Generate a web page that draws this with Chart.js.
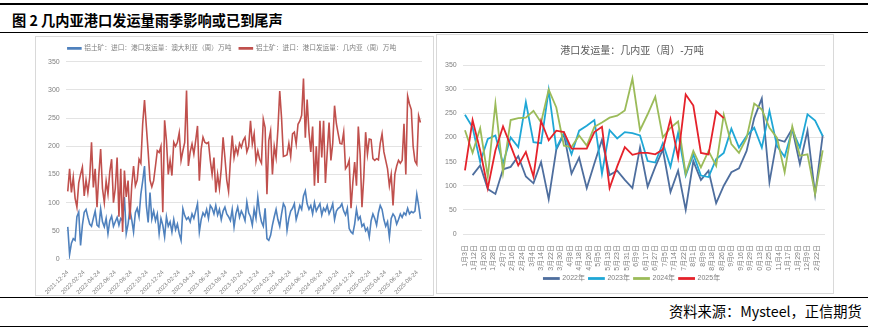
<!DOCTYPE html>
<html><head><meta charset="utf-8">
<script src="https://cdn.jsdelivr.net/npm/chart.js@4.4.1/dist/chart.umd.min.js"></script>
<style>
body{margin:0;width:874px;height:330px;background:#fff;position:relative;overflow:hidden;font-family:"Noto Sans CJK SC",sans-serif;}
.hl{position:absolute;left:0;width:868px;height:0;border-top:1.5px solid #000;}
#title{position:absolute;left:12px;top:10px;font-size:14.5px;font-weight:bold;color:#000;line-height:20px;white-space:nowrap;}
#src{position:absolute;left:669px;top:302px;font-size:14px;color:#000;line-height:18px;white-space:nowrap;}
.panel{position:absolute;border:1px solid #d9d9d9;box-sizing:border-box;}
canvas{position:absolute;}
</style></head><body>
<div class="hl" style="top:3px;border-top-width:2px"></div>
<div id="title">图 2 几内亚港口发运量雨季影响或已到尾声</div>
<div class="hl" style="top:32px"></div>
<div class="panel" style="left:35px;top:36px;width:399px;height:260px"></div>
<div class="panel" style="left:436px;top:34px;width:398px;height:260px"></div>
<canvas id="cl" width="397" height="258" style="left:36px;top:37px"></canvas>
<canvas id="cr" width="396" height="258" style="left:437px;top:35px"></canvas>
<div class="hl" style="top:297px"></div>
<div id="src">资料来源：Mysteel，正信期货</div>
<div class="hl" style="top:326px"></div>
<script>
// fit header/footer text to the reference widths
(function(){
  const fit = (id, target) => {
    const el = document.getElementById(id);
    const fs = parseFloat(getComputedStyle(el).fontSize);
    const w = el.getBoundingClientRect().width;
    if (w > 0) el.style.fontSize = (fs * target / w).toFixed(2) + 'px';
  };
  fit('title', 271);
  fit('src', 193);
})();

// ---------- left chart data ----------
const leftSeriesNames = ['铝土矿：进口：港口发运量：澳大利亚（周）万吨','铝土矿：进口：港口发运量：几内亚（周）万吨'];
const leftStartDate = '2021-12-24';
const leftTickLabels = ['2021-12-24','2022-02-24','2022-04-24','2022-06-24','2022-08-24','2022-10-24','2022-12-24',
 '2023-02-24','2023-04-24','2023-06-24','2023-08-24','2023-10-24','2023-12-24','2024-02-24','2024-04-24','2024-06-24',
 '2024-08-24','2024-10-24','2024-12-24','2025-02-24','2025-04-24','2025-06-24','2025-08-24'];
const australiaWeekly = [
 57,8,28,36,33,75,83,24,60,83,
 88,74,62,58,72,85,60,57,89,66,
 57,72,45,68,76,58,66,74,60,72,
 68,110,45,62,88,70,48,82,90,75,
 115,138,165,95,65,118,71,85,68,80,
 45,72,60,39,75,58,66,48,70,52,
 62,45,33,89,77,70,74,66,80,72,
 85,98,48,70,82,76,88,72,95,90,
 80,95,78,88,70,85,92,80,75,68,
 88,57,80,92,74,85,78,68,101,82,
 75,60,88,72,110,82,66,58,90,36,
 33,42,60,75,88,70,58,80,98,92,
 51,72,85,90,98,70,82,95,88,112,
 121,98,88,95,80,100,85,92,98,78,
 90,85,95,80,88,98,70,85,90,92,
 98,85,78,90,54,48,45,62,88,70,
 75,58,62,50,55,39,68,80,72,60,
 82,95,88,70,58,66,39,72,80,75,
 62,70,80,74,82,78,90,80,84,82,
 85,115,95,71];
const guineaWeekly = [
 120,160,118,145,108,92,135,150,163,112,
 140,118,145,207,127,160,92,150,195,125,
 100,138,115,155,177,100,125,180,75,160,
 48,157,110,139,70,130,165,130,140,177,
 170,240,282,235,190,140,128,139,165,192,
 189,200,83,246,210,150,175,148,207,200,
 207,224,175,192,207,299,165,190,204,186,
 210,236,139,195,216,207,205,207,175,150,
 180,118,150,125,160,216,180,140,120,175,
 219,180,198,186,205,198,210,216,190,200,
 245,204,222,174,192,177,170,248,233,115,
 210,227,150,200,180,230,298,250,182,183,
 185,205,182,222,225,204,239,245,255,320,
 215,283,225,190,235,130,200,135,245,180,
 245,135,190,242,175,205,272,240,222,205,
 204,225,160,165,175,90,135,172,130,235,
 185,92,145,225,186,213,212,178,175,178,
 176,205,222,190,175,160,130,150,95,150,
 165,175,170,175,240,150,289,275,265,200,
 174,168,254,242];

// ---------- right chart data ----------
const rightTitle = '港口发运量：几内亚（周）-万吨';
const rightTickLabels = ['1月3日','1月12日','1月20日','1月28日','2月7日','2月16日','2月24日','3月4日','3月14日','3月22日',
 '3月30日','4月8日','4月18日','4月26日','5月5日','5月13日','5月23日','5月31日','6月9日','6月17日','6月27日','7月5日',
 '7月14日','7月22日','8月1日','8月9日','8月18日','8月26日','9月6日','9月16日','9月29日','10月13日','10月25日',
 '11月4日','11月17日','11月29日','12月9日','12月22日'];
const yearNames = ['2022年','2023年','2024年','2025年'];
const y2022 = [null,122,142,93,83,134,139,161,119,105,149,72,175,207,125,158,95,146,195,122,131,112,95,179,98,139,175,87,131,50,151,112,131,64,100,128,136,172,240,281,107,196,191,218,145,214,82,205];
const y2023 = [247,221,149,197,204,146,200,180,273,190,188,298,178,209,165,214,224,236,125,215,198,211,209,204,151,148,188,139,209,121,165,121,118,155,168,218,179,203,220,179,255,182,160,216,179,248,235,203];
const y2024 = [215,168,219,119,270,127,236,240,241,255,231,299,262,183,180,204,183,222,231,241,245,256,322,215,248,284,200,220,233,124,172,138,172,141,247,186,168,199,270,258,220,199,128,223,162,165,83,173];
const y2025 = [132,236,173,95,173,223,183,142,170,119,234,194,214,211,177,177,177,211,222,95,140,180,164,168,168,165,175,238,158,289,266,168,165,254,240];

const FONT = "'Liberation Sans','Noto Sans CJK SC',sans-serif";
const GRAY = '#7f7f7f';

// ---------- left chart ----------
const dayMs = 86400000;
const t0 = Date.parse(leftStartDate + 'T00:00:00Z');
const dayOf = s => Math.round((Date.parse(s + 'T00:00:00Z') - t0) / dayMs);
const leftTickDays = leftTickLabels.map(dayOf);
const weekly = arr => arr.map((v, i) => ({x: i * 7, y: v}));

new Chart(document.getElementById('cl'), {
  type: 'line',
  data: {datasets: [
    {label: leftSeriesNames[0], data: weekly(australiaWeekly), borderColor: '#4F81BD', backgroundColor: '#4F81BD', borderWidth: 1.6, pointRadius: 0, tension: 0, order: 2},
    {label: leftSeriesNames[1], data: weekly(guineaWeekly), borderColor: '#C0504D', backgroundColor: '#C0504D', borderWidth: 1.6, pointRadius: 0, tension: 0, order: 1}
  ]},
  options: {
    responsive: false, animation: false, events: [],
    layout: {padding: {left: 6, right: 11, top: 0, bottom: 0}},
    plugins: {
      legend: {position: 'top', labels: {sort: (a, b) => a.datasetIndex - b.datasetIndex, boxWidth: 13, boxHeight: 1, padding: 8, color: GRAY, font: {family: FONT, size: 6.7}}},
      tooltip: {enabled: false}
    },
    scales: {
      x: {type: 'linear', min: -8, max: 1357,
        afterBuildTicks: ax => { ax.ticks = leftTickDays.map(v => ({value: v})); },
        afterFit: ax => { ax.height = 36; },
        grid: {display: false}, border: {display: false},
        ticks: {autoSkip: false, minRotation: 45, maxRotation: 45, padding: 2, color: GRAY, font: {family: FONT, size: 6},
          callback: (v, i) => leftTickLabels[i]}
      },
      y: {min: 0, max: 350, grid: {color: '#e3e3e3', drawTicks: false}, border: {display: false},
        ticks: {stepSize: 50, padding: 6, color: GRAY, font: {family: FONT, size: 7}}}
    }
  }
});

// ---------- right chart ----------
const idx = arr => arr.map((v, i) => ({x: i, y: v}));
const labelStep = 1.25;
new Chart(document.getElementById('cr'), {
  type: 'line',
  data: {datasets: [
    {label: yearNames[0], data: idx(y2022), borderColor: '#4E6E9E', backgroundColor: '#4E6E9E', borderWidth: 1.8, pointRadius: 0, tension: 0, order: 4},
    {label: yearNames[1], data: idx(y2023), borderColor: '#1FA7D6', backgroundColor: '#1FA7D6', borderWidth: 1.8, pointRadius: 0, tension: 0, order: 3},
    {label: yearNames[2], data: idx(y2024), borderColor: '#9BBB59', backgroundColor: '#9BBB59', borderWidth: 1.8, pointRadius: 0, tension: 0, order: 2},
    {label: yearNames[3], data: idx(y2025), borderColor: '#E5222B', backgroundColor: '#E5222B', borderWidth: 1.8, pointRadius: 0, tension: 0, order: 1}
  ]},
  options: {
    responsive: false, animation: false, events: [],
    layout: {padding: {left: 2, right: 8, top: 4, bottom: 1}},
    plugins: {
      title: {display: true, text: rightTitle, color: '#595959', font: {family: FONT, size: 10, weight: 'normal'}, padding: {top: 6, bottom: 8}},
      legend: {position: 'bottom', labels: {sort: (a, b) => a.datasetIndex - b.datasetIndex, boxWidth: 15, boxHeight: 1, padding: 4, color: GRAY, font: {family: FONT, size: 7}}},
      tooltip: {enabled: false}
    },
    scales: {
      x: {type: 'linear', min: -0.3, max: 47.3,
        afterBuildTicks: ax => { ax.ticks = rightTickLabels.map((l, j) => ({value: j * labelStep})); },
        afterFit: ax => { ax.height = 37; },
        grid: {display: false}, border: {display: false},
        ticks: {autoSkip: false, minRotation: 90, maxRotation: 90, padding: 3, color: GRAY, font: {family: FONT, size: 7},
          callback: (v, i) => rightTickLabels[i]}
      },
      y: {min: 0, max: 350, grid: {color: '#e3e3e3', drawTicks: false}, border: {display: false},
        ticks: {stepSize: 50, padding: 6, color: GRAY, font: {family: FONT, size: 7}}}
    }
  }
});
</script>
</body></html>
